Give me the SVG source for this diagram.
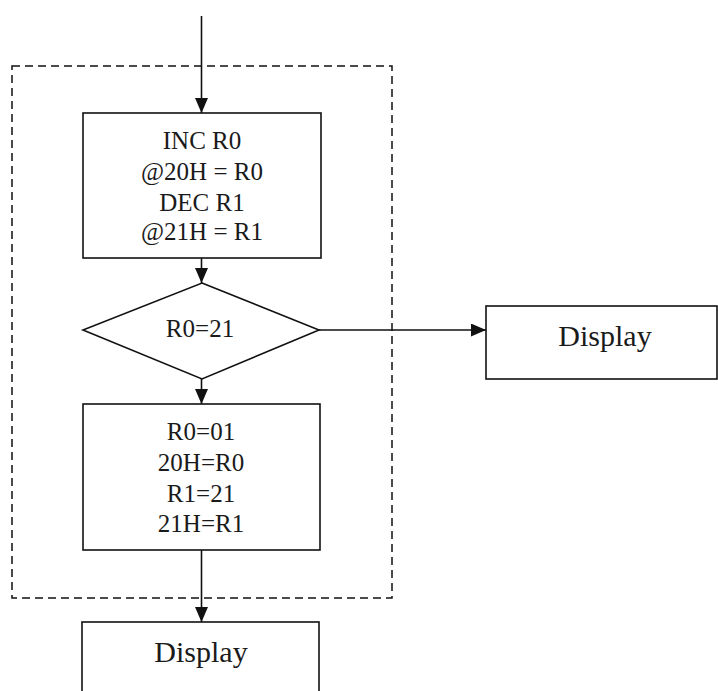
<svg xmlns="http://www.w3.org/2000/svg" width="718" height="691" viewBox="0 0 718 691">
<defs>
<marker id="ah" markerWidth="15" markerHeight="13" refX="15" refY="6.5" orient="auto" markerUnits="userSpaceOnUse" viewBox="0 0 15 13">
<path d="M0,0 L15,6.5 L0,13 Z" fill="#111"/>
</marker>
<style>
.box{fill:#fff;stroke:#111;stroke-width:1.6}
.t{font-family:"Liberation Serif","Times New Roman",serif;font-size:25px;fill:#1a1a1a;text-anchor:middle}
.d{font-size:30px}
.c{stroke:#111;stroke-width:1.6;fill:none}
</style>
</defs>
<rect width="718" height="691" fill="#fff"/>
<rect id="group-boundary" x="12" y="66" width="380" height="532" fill="none" stroke="#111" stroke-width="1.5" stroke-dasharray="8,5"/>
<g id="connectors">
<line class="c" x1="201.5" y1="16" x2="201.5" y2="113" marker-end="url(#ah)"/>
<line class="c" x1="201.5" y1="258" x2="201.5" y2="283" marker-end="url(#ah)"/>
<line class="c" x1="319" y1="330" x2="486" y2="330" marker-end="url(#ah)"/>
<line class="c" x1="201.5" y1="379" x2="201.5" y2="404" marker-end="url(#ah)"/>
<line class="c" x1="201.5" y1="550" x2="201.5" y2="622" marker-end="url(#ah)"/>
</g>
<g id="process1">
<rect class="box" x="83" y="113" width="238" height="145"/>
<text class="t" x="202" y="149">INC R0</text>
<text class="t" x="202" y="180">@20H = R0</text>
<text class="t" x="202" y="211">DEC R1</text>
<text class="t" x="202" y="240">@21H = R1</text>
</g>
<g id="decision">
<polygon class="box" points="202,283 319,330 202,379 83,330"/>
<text class="t" x="200" y="337">R0=21</text>
</g>
<g id="display-right">
<rect class="box" x="486" y="306" width="231" height="73"/>
<text class="t d" x="605" y="346">Display</text>
</g>
<g id="process2">
<rect class="box" x="83" y="404" width="237" height="146"/>
<text class="t" x="201" y="440">R0=01</text>
<text class="t" x="201" y="471">20H=R0</text>
<text class="t" x="201" y="502">R1=21</text>
<text class="t" x="201" y="532">21H=R1</text>
</g>
<g id="display-bottom">
<rect class="box" x="82" y="622" width="237" height="90"/>
<text class="t d" x="201" y="662">Display</text>
</g>
</svg>
